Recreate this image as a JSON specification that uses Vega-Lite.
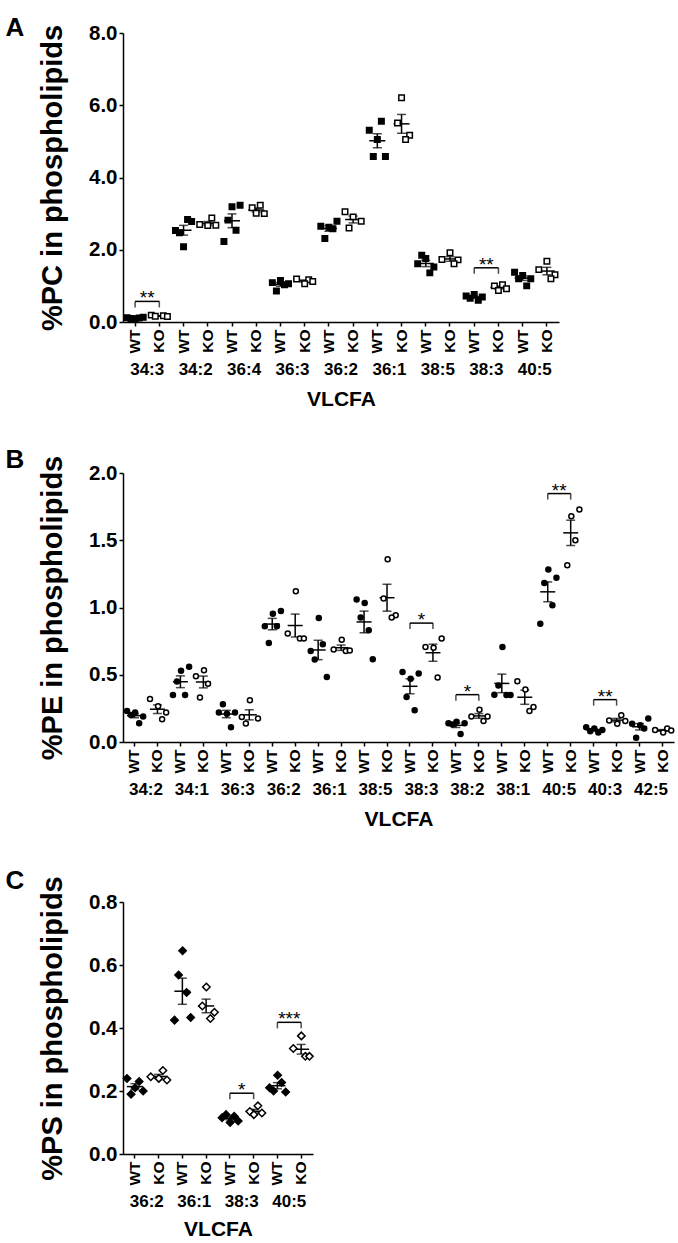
{
  "$schema": "https://vega.github.io/schema/vega-lite/v6.json",
  "background": "white",
  "padding": {"left": 5, "top": 15, "right": 0, "bottom": 0},
  "spacing": 38,
  "config": {
    "font": "Liberation Sans",
    "view": {"stroke": null},
    "axis": {"domainColor": "#000", "domainWidth": 1.5, "tickColor": "#000", "tickWidth": 1.5, "tickSize": 4, "labelColor": "#000", "labelFontWeight": "bold", "titleColor": "#000", "titleFontWeight": "bold", "grid": false},
    "title": {"fontSize": 26, "fontWeight": "bold", "anchor": "start", "color": "#000"}
  },
  "datasets": {
    "A": [
      {"k":"34:3 WT","t":"WT","r":1,"v":0.12},{"k":"34:3 WT","t":"WT","r":2,"v":0.10},{"k":"34:3 WT","t":"WT","r":3,"v":0.09},{"k":"34:3 WT","t":"WT","r":4,"v":0.11},{"k":"34:3 WT","t":"WT","r":5,"v":0.13},
      {"k":"34:3 KO","t":"KO","r":1,"v":0.19},{"k":"34:3 KO","t":"KO","r":2,"v":0.16},{"k":"34:3 KO","t":"KO","r":4,"v":0.17},{"k":"34:3 KO","t":"KO","r":5,"v":0.15},
      {"k":"34:2 WT","t":"WT","r":1,"v":2.53},{"k":"34:2 WT","t":"WT","r":2,"v":2.47},{"k":"34:2 WT","t":"WT","r":3,"v":2.08},{"k":"34:2 WT","t":"WT","r":4,"v":2.84},{"k":"34:2 WT","t":"WT","r":5,"v":2.78},
      {"k":"34:2 KO","t":"KO","r":1,"v":2.70},{"k":"34:2 KO","t":"KO","r":3,"v":2.67},{"k":"34:2 KO","t":"KO","r":4,"v":2.88},{"k":"34:2 KO","t":"KO","r":5,"v":2.68},
      {"k":"36:4 WT","t":"WT","r":5,"v":3.23},{"k":"36:4 WT","t":"WT","r":3,"v":3.19},{"k":"36:4 WT","t":"WT","r":2,"v":2.82},{"k":"36:4 WT","t":"WT","r":4,"v":2.54},{"k":"36:4 WT","t":"WT","r":1,"v":2.23},
      {"k":"36:4 KO","t":"KO","r":4,"v":3.23},{"k":"36:4 KO","t":"KO","r":2,"v":3.16},{"k":"36:4 KO","t":"KO","r":3,"v":3.01},{"k":"36:4 KO","t":"KO","r":5,"v":3.00},
      {"k":"36:3 WT","t":"WT","r":3,"v":1.15},{"k":"36:3 WT","t":"WT","r":1,"v":1.09},{"k":"36:3 WT","t":"WT","r":5,"v":1.06},{"k":"36:3 WT","t":"WT","r":4,"v":1.03},{"k":"36:3 WT","t":"WT","r":2,"v":0.86},
      {"k":"36:3 KO","t":"KO","r":1,"v":1.19},{"k":"36:3 KO","t":"KO","r":4,"v":1.17},{"k":"36:3 KO","t":"KO","r":5,"v":1.12},{"k":"36:3 KO","t":"KO","r":3,"v":1.06},
      {"k":"36:2 WT","t":"WT","r":1,"v":2.65},{"k":"36:2 WT","t":"WT","r":5,"v":2.79},{"k":"36:2 WT","t":"WT","r":4,"v":2.58},{"k":"36:2 WT","t":"WT","r":3,"v":2.62},{"k":"36:2 WT","t":"WT","r":2,"v":2.31},
      {"k":"36:2 KO","t":"KO","r":1,"v":3.05},{"k":"36:2 KO","t":"KO","r":3,"v":2.91},{"k":"36:2 KO","t":"KO","r":5,"v":2.79},{"k":"36:2 KO","t":"KO","r":2,"v":2.60},
      {"k":"36:1 WT","t":"WT","r":4,"v":5.56},{"k":"36:1 WT","t":"WT","r":1,"v":5.31},{"k":"36:1 WT","t":"WT","r":3,"v":5.05},{"k":"36:1 WT","t":"WT","r":2,"v":4.58},{"k":"36:1 WT","t":"WT","r":5,"v":4.58},
      {"k":"36:1 KO","t":"KO","r":3,"v":6.21},{"k":"36:1 KO","t":"KO","r":2,"v":5.51},{"k":"36:1 KO","t":"KO","r":5,"v":5.17},{"k":"36:1 KO","t":"KO","r":4,"v":5.05},
      {"k":"38:5 WT","t":"WT","r":2,"v":1.85},{"k":"38:5 WT","t":"WT","r":3,"v":1.76},{"k":"38:5 WT","t":"WT","r":1,"v":1.61},{"k":"38:5 WT","t":"WT","r":5,"v":1.52},{"k":"38:5 WT","t":"WT","r":4,"v":1.36},
      {"k":"38:5 KO","t":"KO","r":3,"v":1.92},{"k":"38:5 KO","t":"KO","r":1,"v":1.73},{"k":"38:5 KO","t":"KO","r":5,"v":1.72},{"k":"38:5 KO","t":"KO","r":4,"v":1.61},
      {"k":"38:3 WT","t":"WT","r":3,"v":0.76},{"k":"38:3 WT","t":"WT","r":1,"v":0.72},{"k":"38:3 WT","t":"WT","r":5,"v":0.69},{"k":"38:3 WT","t":"WT","r":2,"v":0.66},{"k":"38:3 WT","t":"WT","r":4,"v":0.60},
      {"k":"38:3 KO","t":"KO","r":4,"v":1.03},{"k":"38:3 KO","t":"KO","r":2,"v":1.00},{"k":"38:3 KO","t":"KO","r":5,"v":0.92},{"k":"38:3 KO","t":"KO","r":3,"v":0.87},
      {"k":"40:5 WT","t":"WT","r":1,"v":1.38},{"k":"40:5 WT","t":"WT","r":3,"v":1.29},{"k":"40:5 WT","t":"WT","r":5,"v":1.20},{"k":"40:5 WT","t":"WT","r":2,"v":1.20},{"k":"40:5 WT","t":"WT","r":4,"v":1.00},
      {"k":"40:5 KO","t":"KO","r":3,"v":1.68},{"k":"40:5 KO","t":"KO","r":1,"v":1.45},{"k":"40:5 KO","t":"KO","r":5,"v":1.31},{"k":"40:5 KO","t":"KO","r":4,"v":1.20}
    ],
    "Asig": [
      {"g":"34:3","from":"34:3 WT","to":"34:3 KO","y":0.57,"s":"**"},
      {"g":"38:3","from":"38:3 WT","to":"38:3 KO","y":1.50,"s":"**"}
    ],
    "B": [
      {"k":"34:2 WT","t":"WT","r":1,"v":0.23},{"k":"34:2 WT","t":"WT","r":3,"v":0.22},{"k":"34:2 WT","t":"WT","r":2,"v":0.20},{"k":"34:2 WT","t":"WT","r":5,"v":0.19},{"k":"34:2 WT","t":"WT","r":4,"v":0.14},
      {"k":"34:2 KO","t":"KO","r":1,"v":0.32},{"k":"34:2 KO","t":"KO","r":3,"v":0.265},{"k":"34:2 KO","t":"KO","r":5,"v":0.22},{"k":"34:2 KO","t":"KO","r":4,"v":0.17},
      {"k":"34:1 WT","t":"WT","r":5,"v":0.56},{"k":"34:1 WT","t":"WT","r":3,"v":0.53},{"k":"34:1 WT","t":"WT","r":2,"v":0.45},{"k":"34:1 WT","t":"WT","r":1,"v":0.35},{"k":"34:1 WT","t":"WT","r":4,"v":0.35},
      {"k":"34:1 KO","t":"KO","r":3,"v":0.533},{"k":"34:1 KO","t":"KO","r":1,"v":0.488},{"k":"34:1 KO","t":"KO","r":4,"v":0.434},{"k":"34:1 KO","t":"KO","r":2,"v":0.33},
      {"k":"36:3 WT","t":"WT","r":2,"v":0.28},{"k":"36:3 WT","t":"WT","r":1,"v":0.22},{"k":"36:3 WT","t":"WT","r":5,"v":0.22},{"k":"36:3 WT","t":"WT","r":3,"v":0.21},{"k":"36:3 WT","t":"WT","r":4,"v":0.11},
      {"k":"36:3 KO","t":"KO","r":3,"v":0.31},{"k":"36:3 KO","t":"KO","r":1,"v":0.186},{"k":"36:3 KO","t":"KO","r":5,"v":0.175},{"k":"36:3 KO","t":"KO","r":2,"v":0.137},
      {"k":"36:2 WT","t":"WT","r":5,"v":0.974},{"k":"36:2 WT","t":"WT","r":3,"v":0.954},{"k":"36:2 WT","t":"WT","r":1,"v":0.86},{"k":"36:2 WT","t":"WT","r":4,"v":0.86},{"k":"36:2 WT","t":"WT","r":2,"v":0.736},
      {"k":"36:2 KO","t":"KO","r":3,"v":1.12},{"k":"36:2 KO","t":"KO","r":1,"v":0.806},{"k":"36:2 KO","t":"KO","r":4,"v":0.769},{"k":"36:2 KO","t":"KO","r":5,"v":0.769},
      {"k":"36:1 WT","t":"WT","r":3,"v":0.922},{"k":"36:1 WT","t":"WT","r":4,"v":0.726},{"k":"36:1 WT","t":"WT","r":1,"v":0.677},{"k":"36:1 WT","t":"WT","r":2,"v":0.613},{"k":"36:1 WT","t":"WT","r":5,"v":0.483},
      {"k":"36:1 KO","t":"KO","r":3,"v":0.76},{"k":"36:1 KO","t":"KO","r":1,"v":0.687},{"k":"36:1 KO","t":"KO","r":4,"v":0.677},{"k":"36:1 KO","t":"KO","r":5,"v":0.68},
      {"k":"38:5 WT","t":"WT","r":1,"v":1.059},{"k":"38:5 WT","t":"WT","r":3,"v":1.034},{"k":"38:5 WT","t":"WT","r":2,"v":0.925},{"k":"38:5 WT","t":"WT","r":4,"v":0.83},{"k":"38:5 WT","t":"WT","r":5,"v":0.615},
      {"k":"38:5 KO","t":"KO","r":3,"v":1.358},{"k":"38:5 KO","t":"KO","r":2,"v":1.066},{"k":"38:5 KO","t":"KO","r":5,"v":0.942},{"k":"38:5 KO","t":"KO","r":4,"v":0.925},
      {"k":"38:3 WT","t":"WT","r":1,"v":0.52},{"k":"38:3 WT","t":"WT","r":5,"v":0.51},{"k":"38:3 WT","t":"WT","r":3,"v":0.47},{"k":"38:3 WT","t":"WT","r":2,"v":0.335},{"k":"38:3 WT","t":"WT","r":4,"v":0.236},
      {"k":"38:3 KO","t":"KO","r":5,"v":0.77},{"k":"38:3 KO","t":"KO","r":1,"v":0.706},{"k":"38:3 KO","t":"KO","r":3,"v":0.70},{"k":"38:3 KO","t":"KO","r":4,"v":0.479},
      {"k":"38:2 WT","t":"WT","r":3,"v":0.15},{"k":"38:2 WT","t":"WT","r":1,"v":0.14},{"k":"38:2 WT","t":"WT","r":5,"v":0.14},{"k":"38:2 WT","t":"WT","r":2,"v":0.13},{"k":"38:2 WT","t":"WT","r":4,"v":0.06},
      {"k":"38:2 KO","t":"KO","r":3,"v":0.24},{"k":"38:2 KO","t":"KO","r":1,"v":0.19},{"k":"38:2 KO","t":"KO","r":5,"v":0.19},{"k":"38:2 KO","t":"KO","r":4,"v":0.156},
      {"k":"38:1 WT","t":"WT","r":3,"v":0.706},{"k":"38:1 WT","t":"WT","r":2,"v":0.42},{"k":"38:1 WT","t":"WT","r":1,"v":0.352},{"k":"38:1 WT","t":"WT","r":4,"v":0.35},{"k":"38:1 WT","t":"WT","r":5,"v":0.35},
      {"k":"38:1 KO","t":"KO","r":1,"v":0.451},{"k":"38:1 KO","t":"KO","r":3,"v":0.39},{"k":"38:1 KO","t":"KO","r":5,"v":0.26},{"k":"38:1 KO","t":"KO","r":4,"v":0.23},
      {"k":"40:5 WT","t":"WT","r":3,"v":1.282},{"k":"40:5 WT","t":"WT","r":5,"v":1.222},{"k":"40:5 WT","t":"WT","r":2,"v":1.182},{"k":"40:5 WT","t":"WT","r":4,"v":1.016},{"k":"40:5 WT","t":"WT","r":1,"v":0.88},
      {"k":"40:5 KO","t":"KO","r":5,"v":1.728},{"k":"40:5 KO","t":"KO","r":3,"v":1.678},{"k":"40:5 KO","t":"KO","r":4,"v":1.50},{"k":"40:5 KO","t":"KO","r":2,"v":1.314},
      {"k":"40:3 WT","t":"WT","r":1,"v":0.11},{"k":"40:3 WT","t":"WT","r":3,"v":0.10},{"k":"40:3 WT","t":"WT","r":5,"v":0.09},{"k":"40:3 WT","t":"WT","r":2,"v":0.08},{"k":"40:3 WT","t":"WT","r":4,"v":0.07},
      {"k":"40:3 KO","t":"KO","r":4,"v":0.198},{"k":"40:3 KO","t":"KO","r":1,"v":0.16},{"k":"40:3 KO","t":"KO","r":5,"v":0.156},{"k":"40:3 KO","t":"KO","r":3,"v":0.136},
      {"k":"42:5 WT","t":"WT","r":5,"v":0.174},{"k":"42:5 WT","t":"WT","r":1,"v":0.136},{"k":"42:5 WT","t":"WT","r":3,"v":0.124},{"k":"42:5 WT","t":"WT","r":4,"v":0.10},{"k":"42:5 WT","t":"WT","r":2,"v":0.032},
      {"k":"42:5 KO","t":"KO","r":4,"v":0.10},{"k":"42:5 KO","t":"KO","r":1,"v":0.09},{"k":"42:5 KO","t":"KO","r":5,"v":0.085},{"k":"42:5 KO","t":"KO","r":3,"v":0.07}
    ],
    "Bsig": [
      {"g":"38:3","from":"38:3 WT","to":"38:3 KO","y":0.884,"s":"*"},
      {"g":"38:2","from":"38:2 WT","to":"38:2 KO","y":0.352,"s":"*"},
      {"g":"40:5","from":"40:5 WT","to":"40:5 KO","y":1.847,"s":"**"},
      {"g":"40:3","from":"40:3 WT","to":"40:3 KO","y":0.315,"s":"**"}
    ],
    "C": [
      {"k":"36:2 WT","t":"WT","r":1,"v":0.24},{"k":"36:2 WT","t":"WT","r":4,"v":0.23},{"k":"36:2 WT","t":"WT","r":3,"v":0.21},{"k":"36:2 WT","t":"WT","r":5,"v":0.20},{"k":"36:2 WT","t":"WT","r":2,"v":0.19},
      {"k":"36:2 KO","t":"KO","r":4,"v":0.265},{"k":"36:2 KO","t":"KO","r":1,"v":0.245},{"k":"36:2 KO","t":"KO","r":3,"v":0.24},{"k":"36:2 KO","t":"KO","r":5,"v":0.235},
      {"k":"36:1 WT","t":"WT","r":3,"v":0.645},{"k":"36:1 WT","t":"WT","r":2,"v":0.568},{"k":"36:1 WT","t":"WT","r":4,"v":0.513},{"k":"36:1 WT","t":"WT","r":1,"v":0.425},{"k":"36:1 WT","t":"WT","r":5,"v":0.433},
      {"k":"36:1 KO","t":"KO","r":3,"v":0.53},{"k":"36:1 KO","t":"KO","r":2,"v":0.47},{"k":"36:1 KO","t":"KO","r":5,"v":0.45},{"k":"36:1 KO","t":"KO","r":4,"v":0.43},
      {"k":"38:3 WT","t":"WT","r":2,"v":0.125},{"k":"38:3 WT","t":"WT","r":4,"v":0.12},{"k":"38:3 WT","t":"WT","r":1,"v":0.115},{"k":"38:3 WT","t":"WT","r":5,"v":0.105},{"k":"38:3 WT","t":"WT","r":3,"v":0.10},
      {"k":"38:3 KO","t":"KO","r":4,"v":0.153},{"k":"38:3 KO","t":"KO","r":2,"v":0.135},{"k":"38:3 KO","t":"KO","r":5,"v":0.13},{"k":"38:3 KO","t":"KO","r":3,"v":0.125},
      {"k":"40:5 WT","t":"WT","r":3,"v":0.25},{"k":"40:5 WT","t":"WT","r":4,"v":0.227},{"k":"40:5 WT","t":"WT","r":1,"v":0.21},{"k":"40:5 WT","t":"WT","r":2,"v":0.20},{"k":"40:5 WT","t":"WT","r":5,"v":0.197},
      {"k":"40:5 KO","t":"KO","r":3,"v":0.375},{"k":"40:5 KO","t":"KO","r":1,"v":0.335},{"k":"40:5 KO","t":"KO","r":4,"v":0.31},{"k":"40:5 KO","t":"KO","r":5,"v":0.31}
    ],
    "Csig": [
      {"g":"38:3","from":"38:3 WT","to":"38:3 KO","y":0.193,"s":"*"},
      {"g":"40:5","from":"40:5 WT","to":"40:5 KO","y":0.418,"s":"***"}
    ]
  },
  "vconcat": [
    {
      "title": {"text": "A", "dx": -33, "dy": 22},
      "width": 436, "height": 289,
      "layer": [
        {
          "layer": [
            {"data": {"name": "A"}, "mark": {"type": "errorbar", "extent": "stderr", "color": "black", "ticks": {"size": 9, "thickness": 1.5}, "rule": {"strokeWidth": 1.5}},
             "encoding": {
               "x": {"field": "k", "type": "nominal", "scale": {"type": "band", "domain": ["34:3 WT","34:3 KO","34:2 WT","34:2 KO","36:4 WT","36:4 KO","36:3 WT","36:3 KO","36:2 WT","36:2 KO","36:1 WT","36:1 KO","38:5 WT","38:5 KO","38:3 WT","38:3 KO","40:5 WT","40:5 KO"], "paddingInner": 0, "paddingOuter": 0}, "axis": {"title": null, "labelAngle": 270, "labelExpr": "slice(datum.label, -2)", "labelFontSize": 15.5, "labelPadding": 3}},
               "y": {"field": "v", "type": "quantitative", "scale": {"domain": [0, 8], "nice": false}, "axis": {"title": "%PC in phospholipids", "titleFontSize": 29, "titlePadding": 21, "values": [0, 2, 4, 6, 8], "format": ".1f", "labelFontSize": 20.5, "labelPadding": 2}}
             }},
            {"data": {"name": "A"}, "mark": {"type": "tick", "size": 16, "thickness": 1.5, "color": "black"},
             "encoding": {
               "x": {"field": "k", "type": "nominal"},
               "y": {"aggregate": "mean", "field": "v", "type": "quantitative"}
             }},
            {"data": {"name": "A"}, "mark": {"type": "point", "shape": "square", "size": 30, "strokeWidth": 1.5, "stroke": "black", "opacity": 1, "filled": true},
             "encoding": {
               "x": {"field": "k", "type": "nominal"},
               "xOffset": {"field": "r", "type": "ordinal", "scale": {"domain": [1, 2, 3, 4, 5], "paddingInner": 0, "paddingOuter": 1.25}},
               "y": {"field": "v", "type": "quantitative"},
               "fill": {"field": "t", "type": "nominal", "scale": {"domain": ["WT", "KO"], "range": ["black", "white"]}, "legend": null}
             }},
            {"data": {"name": "Asig"}, "mark": {"type": "rule", "strokeWidth": 1.5, "color": "black"},
             "encoding": {
               "x": {"field": "from", "type": "nominal"},
               "x2": {"field": "to"},
               "y": {"field": "y", "type": "quantitative"}
             }},
            {"data": {"name": "Asig"}, "transform": [{"fold": ["from", "to"], "as": ["end", "kk"]}],
             "mark": {"type": "tick", "orient": "vertical", "size": 6, "thickness": 1.5, "color": "black", "yOffset": 3},
             "encoding": {
               "x": {"field": "kk", "type": "nominal"},
               "y": {"field": "y", "type": "quantitative"}
             }}
          ]
        },
        {
          "data": {"name": "Asig"},
          "mark": {"type": "text", "fontSize": 19, "baseline": "alphabetic", "fill": "black", "color": "black", "dy": 3},
          "encoding": {
            "x": {"field": "g", "type": "nominal", "scale": {"type": "band", "domain": ["34:3","34:2","36:4","36:3","36:2","36:1","38:5","38:3","40:5"], "paddingInner": 0, "paddingOuter": 0}, "axis": {"orient": "bottom", "offset": 35, "domain": false, "ticks": false, "labelAngle": 0, "labelFontSize": 17, "labelPadding": 4, "title": "VLCFA", "titleFontSize": 21, "titlePadding": 11}},
            "y": {"field": "y", "type": "quantitative"},
            "text": {"field": "s"}
          }
        }
      ],
      "resolve": {"scale": {"x": "independent"}, "axis": {"x": "independent"}}
    },
    {
      "title": {"text": "B", "dx": -33, "dy": 22},
      "width": 551, "height": 269,
      "layer": [
        {
          "layer": [
            {"data": {"name": "B"}, "mark": {"type": "errorbar", "extent": "stderr", "color": "black", "ticks": {"size": 9, "thickness": 1.5}, "rule": {"strokeWidth": 1.5}},
             "encoding": {
               "x": {"field": "k", "type": "nominal", "scale": {"type": "band", "domain": ["34:2 WT","34:2 KO","34:1 WT","34:1 KO","36:3 WT","36:3 KO","36:2 WT","36:2 KO","36:1 WT","36:1 KO","38:5 WT","38:5 KO","38:3 WT","38:3 KO","38:2 WT","38:2 KO","38:1 WT","38:1 KO","40:5 WT","40:5 KO","40:3 WT","40:3 KO","42:5 WT","42:5 KO"], "paddingInner": 0, "paddingOuter": 0}, "axis": {"title": null, "labelAngle": 270, "labelExpr": "slice(datum.label, -2)", "labelFontSize": 15.5, "labelPadding": 3}},
               "y": {"field": "v", "type": "quantitative", "scale": {"domain": [0, 2], "nice": false}, "axis": {"title": "%PE in phospholipids", "titleFontSize": 29, "titlePadding": 21, "values": [0, 0.5, 1, 1.5, 2], "format": ".1f", "labelFontSize": 20.5, "labelPadding": 2}}
             }},
            {"data": {"name": "B"}, "mark": {"type": "tick", "size": 15, "thickness": 1.5, "color": "black"},
             "encoding": {
               "x": {"field": "k", "type": "nominal"},
               "y": {"aggregate": "mean", "field": "v", "type": "quantitative"}
             }},
            {"data": {"name": "B"}, "mark": {"type": "point", "shape": "circle", "size": 25, "strokeWidth": 1.5, "stroke": "black", "opacity": 1, "filled": true},
             "encoding": {
               "x": {"field": "k", "type": "nominal"},
               "xOffset": {"field": "r", "type": "ordinal", "scale": {"domain": [1, 2, 3, 4, 5], "paddingInner": 0, "paddingOuter": 1.25}},
               "y": {"field": "v", "type": "quantitative"},
               "fill": {"field": "t", "type": "nominal", "scale": {"domain": ["WT", "KO"], "range": ["black", "white"]}, "legend": null}
             }},
            {"data": {"name": "Bsig"}, "mark": {"type": "rule", "strokeWidth": 1.5, "color": "black"},
             "encoding": {
               "x": {"field": "from", "type": "nominal"},
               "x2": {"field": "to"},
               "y": {"field": "y", "type": "quantitative"}
             }},
            {"data": {"name": "Bsig"}, "transform": [{"fold": ["from", "to"], "as": ["end", "kk"]}],
             "mark": {"type": "tick", "orient": "vertical", "size": 6, "thickness": 1.5, "color": "black", "yOffset": 3},
             "encoding": {
               "x": {"field": "kk", "type": "nominal"},
               "y": {"field": "y", "type": "quantitative"}
             }}
          ]
        },
        {
          "data": {"name": "Bsig"},
          "mark": {"type": "text", "fontSize": 19, "baseline": "alphabetic", "fill": "black", "color": "black", "dy": 3},
          "encoding": {
            "x": {"field": "g", "type": "nominal", "scale": {"type": "band", "domain": ["34:2","34:1","36:3","36:2","36:1","38:5","38:3","38:2","38:1","40:5","40:3","42:5"], "paddingInner": 0, "paddingOuter": 0}, "axis": {"orient": "bottom", "offset": 35, "domain": false, "ticks": false, "labelAngle": 0, "labelFontSize": 17, "labelPadding": 4, "title": "VLCFA", "titleFontSize": 21, "titlePadding": 11}},
            "y": {"field": "y", "type": "quantitative"},
            "text": {"field": "s"}
          }
        }
      ],
      "resolve": {"scale": {"x": "independent"}, "axis": {"x": "independent"}}
    },
    {
      "title": {"text": "C", "dx": -33, "dy": 22},
      "width": 190, "height": 252,
      "layer": [
        {
          "layer": [
            {"data": {"name": "C"}, "mark": {"type": "errorbar", "extent": "stderr", "color": "black", "ticks": {"size": 9, "thickness": 1.5}, "rule": {"strokeWidth": 1.5}},
             "encoding": {
               "x": {"field": "k", "type": "nominal", "scale": {"type": "band", "domain": ["36:2 WT","36:2 KO","36:1 WT","36:1 KO","38:3 WT","38:3 KO","40:5 WT","40:5 KO"], "paddingInner": 0, "paddingOuter": 0}, "axis": {"title": null, "labelAngle": 270, "labelExpr": "slice(datum.label, -2)", "labelFontSize": 15.5, "labelPadding": 3}},
               "y": {"field": "v", "type": "quantitative", "scale": {"domain": [0, 0.8], "nice": false}, "axis": {"title": "%PS in phospholipids", "titleFontSize": 29, "titlePadding": 21, "values": [0, 0.2, 0.4, 0.6, 0.8], "format": ".1f", "labelFontSize": 20.5, "labelPadding": 2}}
             }},
            {"data": {"name": "C"}, "mark": {"type": "tick", "size": 16, "thickness": 1.5, "color": "black"},
             "encoding": {
               "x": {"field": "k", "type": "nominal"},
               "y": {"aggregate": "mean", "field": "v", "type": "quantitative"}
             }},
            {"data": {"name": "C"}, "mark": {"type": "point", "shape": "diamond", "size": 55, "strokeWidth": 1.5, "stroke": "black", "opacity": 1, "filled": true},
             "encoding": {
               "x": {"field": "k", "type": "nominal"},
               "xOffset": {"field": "r", "type": "ordinal", "scale": {"domain": [1, 2, 3, 4, 5], "paddingInner": 0, "paddingOuter": 1.25}},
               "y": {"field": "v", "type": "quantitative"},
               "fill": {"field": "t", "type": "nominal", "scale": {"domain": ["WT", "KO"], "range": ["black", "white"]}, "legend": null}
             }},
            {"data": {"name": "Csig"}, "mark": {"type": "rule", "strokeWidth": 1.5, "color": "black"},
             "encoding": {
               "x": {"field": "from", "type": "nominal"},
               "x2": {"field": "to"},
               "y": {"field": "y", "type": "quantitative"}
             }},
            {"data": {"name": "Csig"}, "transform": [{"fold": ["from", "to"], "as": ["end", "kk"]}],
             "mark": {"type": "tick", "orient": "vertical", "size": 6, "thickness": 1.5, "color": "black", "yOffset": 3},
             "encoding": {
               "x": {"field": "kk", "type": "nominal"},
               "y": {"field": "y", "type": "quantitative"}
             }}
          ]
        },
        {
          "data": {"name": "Csig"},
          "mark": {"type": "text", "fontSize": 19, "baseline": "alphabetic", "fill": "black", "color": "black", "dy": 3},
          "encoding": {
            "x": {"field": "g", "type": "nominal", "scale": {"type": "band", "domain": ["36:2","36:1","38:3","40:5"], "paddingInner": 0, "paddingOuter": 0}, "axis": {"orient": "bottom", "offset": 35, "domain": false, "ticks": false, "labelAngle": 0, "labelFontSize": 17, "labelPadding": 4, "title": "VLCFA", "titleFontSize": 21, "titlePadding": 9}},
            "y": {"field": "y", "type": "quantitative"},
            "text": {"field": "s"}
          }
        }
      ],
      "resolve": {"scale": {"x": "independent"}, "axis": {"x": "independent"}}
    }
  ]
}
